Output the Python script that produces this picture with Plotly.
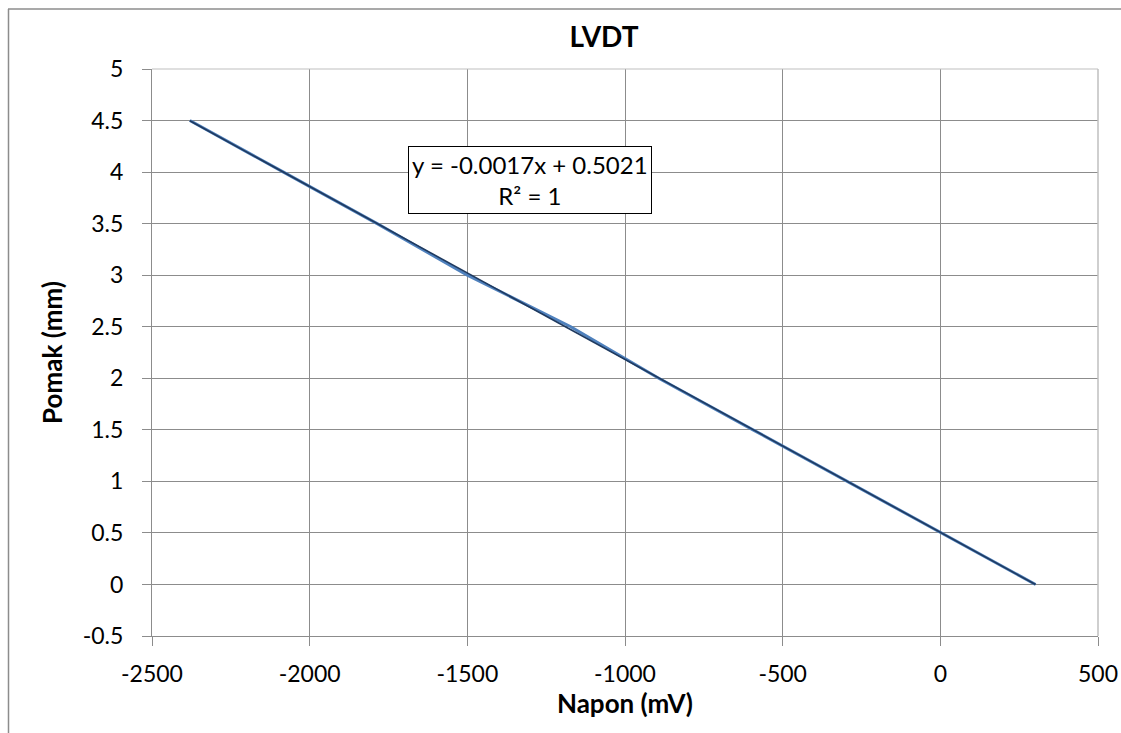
import numpy as np
import plotly.graph_objects as go

# Data
napon_mv = [302, 2, -296, -594, -893, -1172, -1500, -1786, -2083, -2380]
pomak_mm = [0.0, 0.5, 1.0, 1.5, 2.0, 2.5, 3.0, 3.5, 4.0, 4.5]
x_ticks = [-2500, -2000, -1500, -1000, -500, 0, 500]
y_ticks = [-0.5, 0, 0.5, 1, 1.5, 2, 2.5, 3, 3.5, 4, 4.5, 5]
title_text = "LVDT"
x_title = "Napon (mV)"
y_title = "Pomak (mm)"
eq_text = "y = -0.0017x + 0.5021<br>R² = 1"

# linear trendline (least squares fit of the data, as Excel does)
coef = np.polyfit(napon_mv, pomak_mm, 1)
tx = [min(napon_mv), max(napon_mv)]
ty = [coef[0] * v + coef[1] for v in tx]

FONT = "Lato"
W, H = 1121, 733
# plot area in screen pixels
PL, PR, PT, PB = 152, 1098, 69, 636
L, T = PL, PT
R, B = W - PR, H - PB
pw, ph = PR - PL, PB - PT

def px(xs):
    return (xs - PL) / pw

def py(ys):
    return (PB - ys) / ph

fig = go.Figure()
fig.add_trace(go.Scatter(x=napon_mv, y=pomak_mm, mode="lines",
                         line=dict(color="#4F81BD", width=3), showlegend=False))
fig.add_trace(go.Scatter(x=tx, y=ty, mode="lines",
                         line=dict(color="#1F3A60", width=1.6), showlegend=False))

axis_common = dict(
    showgrid=True, gridcolor="#8C8C8C", gridwidth=1,
    showline=True, linecolor="#8C8C8C", linewidth=1,
    ticks="outside", ticklen=9, tickcolor="#8C8C8C", tickwidth=1,
    tickfont=dict(family=FONT, size=23, color="#000000"),
    zeroline=False,
)

fig.update_xaxes(range=[-2500, 500], tickvals=x_ticks, ticktext=[str(v) for v in x_ticks],
                 title=dict(text="<b>" + x_title + "</b>", font=dict(family=FONT, size=26, color="#000"), standoff=8),
                 ticklabelstandoff=8, **axis_common)
fig.update_yaxes(range=[-0.5, 5], tickvals=y_ticks, ticktext=[f"{v:g}" for v in y_ticks],
                 title=dict(text="<b>" + y_title + "</b>", font=dict(family=FONT, size=26, color="#000"), standoff=12),
                 ticklabelstandoff=14, **axis_common)

shapes = [
    # outer chart border (left and top edges, chart area cropped)
    dict(type="line", xref="paper", yref="paper", x0=px(8.5), x1=px(8.5), y0=py(9), y1=py(H + 5),
         line=dict(color="#8C8C8C", width=1.5)),
    dict(type="line", xref="paper", yref="paper", x0=px(8), x1=px(W + 5), y0=py(9), y1=py(9),
         line=dict(color="#8C8C8C", width=1.5)),
    # plot area top and right edges
    dict(type="line", xref="paper", yref="paper", x0=0, x1=1, y0=1, y1=1,
         line=dict(color="#BFBFBF", width=1)),
    dict(type="line", xref="paper", yref="paper", x0=1, x1=1, y0=0, y1=1,
         line=dict(color="#BFBFBF", width=1.5)),
]

fig.update_layout(
    width=W, height=H,
    margin=dict(l=L, r=R, t=T, b=B, autoexpand=False),
    paper_bgcolor="white", plot_bgcolor="white",
    hovermode=False,
    title=dict(text="<b>" + title_text + "</b>", x=604 / W, xanchor="center",
               y=1 - 37 / H, yanchor="middle", font=dict(family=FONT, size=28, color="#000")),
    shapes=shapes,
    annotations=[dict(text=eq_text, xref="paper", yref="paper", x=px(530), y=py(180),
                      xanchor="center", yanchor="middle", showarrow=False, align="center",
                      font=dict(family=FONT, size=24, color="#000"),
                      bordercolor="#000", borderwidth=1, borderpad=3, bgcolor="white")],
)

fig.write_html("out.html", config={"displayModeBar": False},
               post_script="document.body.style.margin='0';document.body.style.overflow='hidden';")
